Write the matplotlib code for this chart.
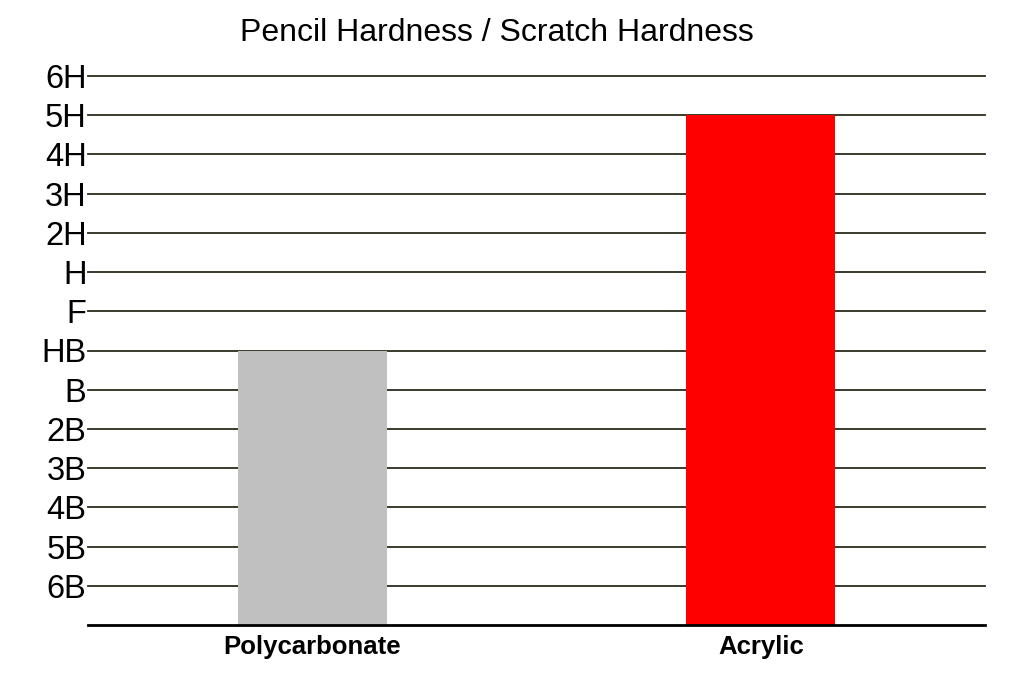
import matplotlib
matplotlib.use("Agg")
import matplotlib.pyplot as plt

plt.rcParams['font.family'] = ['Liberation Sans', 'DejaVu Sans']

# pencil grades, softest to hardest
grades = ['6B', '5B', '4B', '3B', '2B', 'B', 'HB', 'F', 'H', '2H', '3H', '4H', '5H', '6H']
materials = ['Polycarbonate', 'Acrylic']
hardness = ['HB', '5H']
colors = ['#c0c0c0', '#ff0000']

values = [grades.index(h) + 1 for h in hardness]
levels = list(range(1, len(grades) + 1))

fig = plt.figure(figsize=(10.17, 6.76), dpi=100)
ax = fig.add_axes([88 / 1017, 51 / 676, 897 / 1017, 549 / 676])

for y in levels:
    ax.axhline(y, color='#2b2b1b', lw=1.3, zorder=1, clip_on=False)

ax.bar(range(len(materials)), values, width=0.333, color=colors, zorder=2)

ax.set_xlim(-0.5, 1.5)
ax.set_ylim(0, len(grades))
ax.set_yticks(levels)
ax.set_yticklabels(grades, fontsize=23.5)
ax.set_xticks(range(len(materials)))
ax.set_xticklabels(materials, fontsize=18.5, fontweight='bold')
ax.tick_params(axis='y', length=0, pad=1)
ax.tick_params(axis='x', length=0, pad=7)

for s in ['top', 'right', 'left']:
    ax.spines[s].set_visible(False)
ax.spines['bottom'].set_linewidth(2)
ax.spines['bottom'].set_color('black')
ax.spines['bottom'].set_zorder(3)

fig.text(497 / 1017, 1 - 33 / 676, 'Pencil Hardness / Scratch Hardness',
         ha='center', va='center', fontsize=23)

fig.savefig('out.png', dpi=100)
